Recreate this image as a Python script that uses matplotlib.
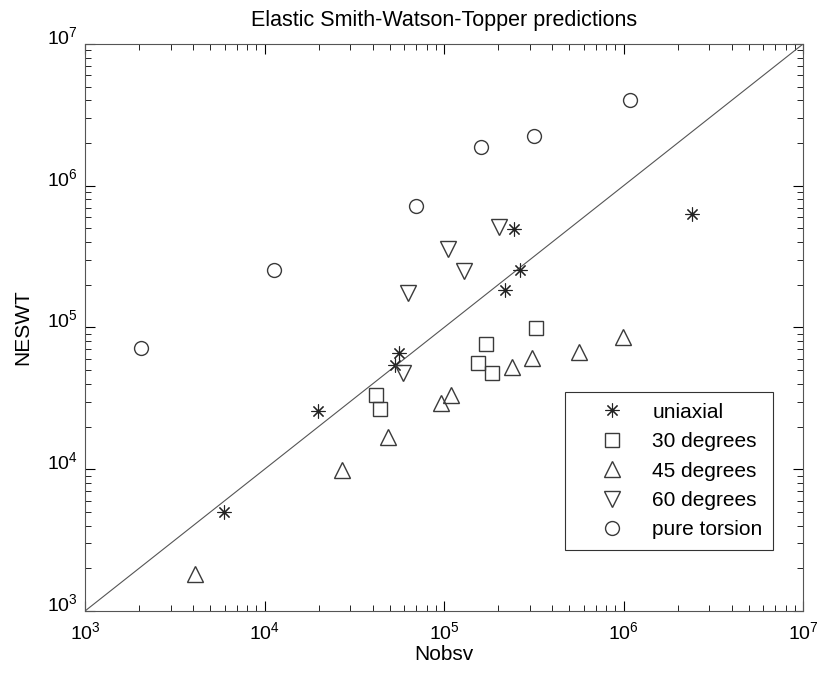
import numpy as np
import matplotlib
matplotlib.use("Agg")
import matplotlib.pyplot as plt

plt.rcParams["font.family"] = ["Liberation Sans", "DejaVu Sans"]
plt.rcParams["mathtext.fontset"] = "custom"
plt.rcParams["mathtext.rm"] = "Liberation Sans"
plt.rcParams["mathtext.default"] = "regular"

# data (Nobsv, NESWT)
uni_x = [5940, 19900, 53100, 56100, 218000, 245000, 265000, 2410000]
uni_y = [4970, 25800, 54300, 66400, 184000, 498000, 254700, 635000]

deg30_x = [41800, 44000, 155000, 171000, 186000, 324000]
deg30_y = [33600, 26500, 56500, 76000, 47500, 98600]

deg45_x = [4080, 27000, 48700, 95900, 110000, 239000, 309000, 562000, 993000]
deg45_y = [1820, 9880, 17000, 29200, 33400, 52800, 60700, 67500, 85300]

deg60_x = [59100, 63000, 105000, 129000, 202000]
deg60_y = [47500, 176000, 357000, 250000, 514000]

tors_x = [2060, 11250, 70100, 160000, 318000, 1090000]
tors_y = [71300, 254700, 722000, 1870000, 2240000, 4030000]

lims = [1e3, 1e7]

fig = plt.figure(figsize=(8.2, 6.77), dpi=100)
ax = fig.add_axes([0.1037, 0.0975, 0.8756, 0.8375])

ec = "#3a3a3a"
ax.plot(lims, lims, color="#555555", lw=0.8)
ax.plot(uni_x, uni_y, ls="none", marker=(8, 2, 0), ms=10, mec="#222222", mew=0.8,
        label="uniaxial")
ax.plot(deg30_x, deg30_y, ls="none", marker="s", ms=10, mfc="none", mec=ec, mew=1.0,
        label="30 degrees")
ax.plot(deg45_x, deg45_y, ls="none", marker="^", ms=12, mfc="none", mec=ec, mew=1.0,
        label="45 degrees")
ax.plot(deg60_x, deg60_y, ls="none", marker="v", ms=12, mfc="none", mec=ec, mew=1.0,
        label="60 degrees")
ax.plot(tors_x, tors_y, ls="none", marker="o", ms=10, mfc="none", mec=ec, mew=1.0,
        label="pure torsion")

ax.set_xscale("log")
ax.set_yscale("log")
ax.set_xlim(lims)
ax.set_ylim(lims)

ax.tick_params(which="both", direction="in", top=True, right=True, labelsize=14)
ax.tick_params(which="major", length=7)
ax.tick_params(which="minor", length=4)
ax.tick_params(axis="x", which="major", pad=7)
ax.tick_params(axis="y", which="major", pad=5)
for lab in ax.get_yticklabels():
    lab.set_verticalalignment("baseline")
for s in ax.spines.values():
    s.set_color("#555555")
    s.set_linewidth(0.8)

ax.set_xlabel("Nobsv", fontsize=15, labelpad=2)
ax.set_ylabel("NESWT", fontsize=15, labelpad=11)
ax.set_title("Elastic Smith-Watson-Topper predictions", fontsize=15.5, pad=13)

leg = ax.legend(loc="lower right", bbox_to_anchor=(0.958, 0.108), borderaxespad=0,
                fontsize=15, fancybox=False, edgecolor="#333333", framealpha=1,
                handlelength=3.5, handletextpad=0.2, borderpad=0.5, labelspacing=0.5)
leg.get_frame().set_linewidth(0.8)

fig.savefig("out.png", dpi=100)
